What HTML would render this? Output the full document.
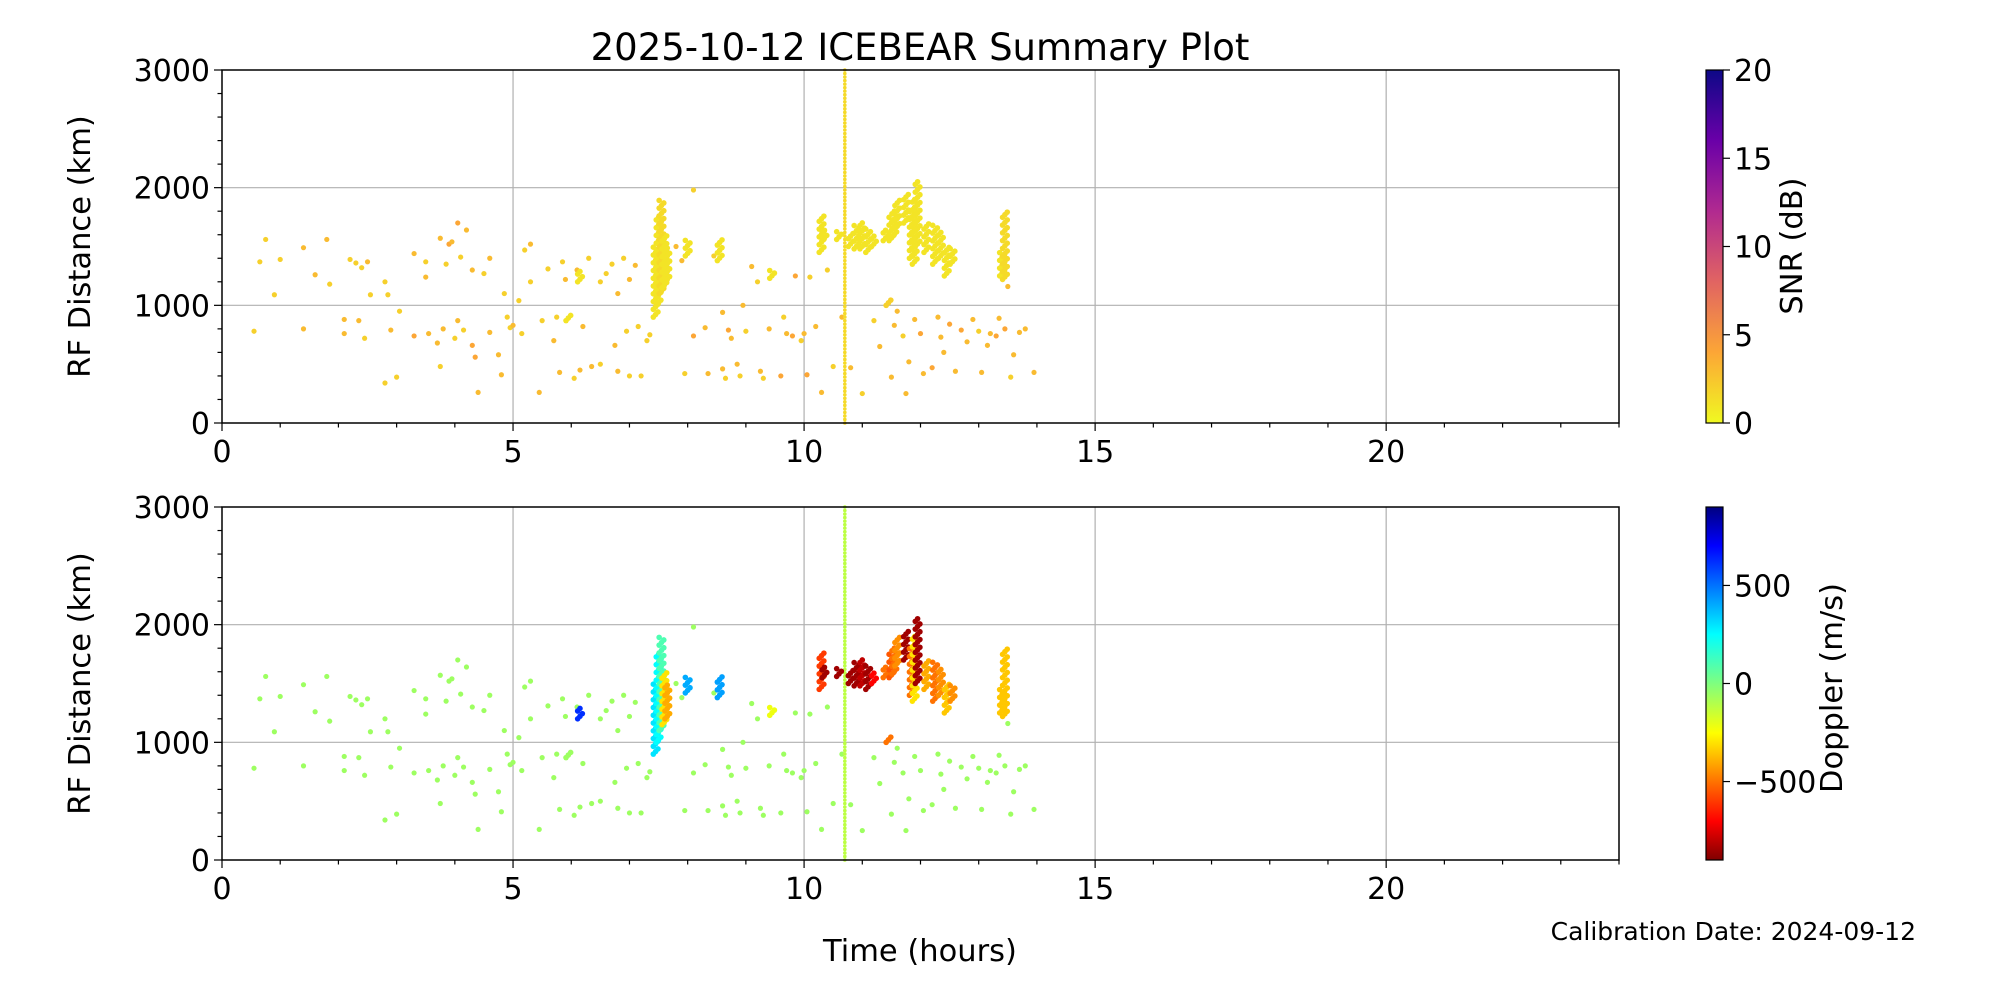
<!DOCTYPE html>
<html><head><meta charset="utf-8"><style>
html,body{margin:0;padding:0;background:#fff;}
svg{display:block;font-family:"DejaVu Sans","Liberation Sans",sans-serif;}
</style></head><body>
<svg id="chart" width="2000" height="1000" viewBox="0 0 2000 1000" xmlns="http://www.w3.org/2000/svg">
<rect width="2000" height="1000" fill="#fff"/>
<text x="920" y="60" font-size="37" text-anchor="middle">2025-10-12 ICEBEAR Summary Plot</text>
<text x="920" y="961" font-size="30.5" text-anchor="middle">Time (hours)</text>
<text x="1916" y="940" font-size="25" text-anchor="end">Calibration Date: 2024-09-12</text>
<defs>
<linearGradient id="plasma" x1="0" y1="1" x2="0" y2="0">
<stop offset="0" stop-color="#f0f921"/><stop offset="0.2" stop-color="#fca636"/><stop offset="0.4" stop-color="#e16462"/><stop offset="0.6" stop-color="#b12a90"/><stop offset="0.8" stop-color="#6a00a8"/><stop offset="1" stop-color="#0d0887"/>
</linearGradient>
<linearGradient id="jetr" x1="0" y1="1" x2="0" y2="0">
<stop offset="0" stop-color="#800000"/><stop offset="0.11" stop-color="#ff0000"/><stop offset="0.36" stop-color="#ffff00"/><stop offset="0.5" stop-color="#7fff7f"/><stop offset="0.64" stop-color="#00ffff"/><stop offset="0.89" stop-color="#0000ff"/><stop offset="1" stop-color="#000080"/>
</linearGradient>
</defs>
<g id="layer"></g>
</svg>
<script>
// scattered echoes: time (h), range (km)
const scatT=[0.55,0.65,0.75,0.9,1.0,1.4,1.4,1.6,1.8,1.85,2.1,2.1,2.2,2.3,2.35,2.4,2.45,2.5,2.55,2.8,2.8,2.85,2.9,3.0,3.05,3.3,3.3,3.5,3.5,3.55,3.7,3.75,3.75,3.8,3.85,3.9,3.95,4.0,4.05,4.05,4.1,4.15,4.2,4.3,4.3,4.35,4.4,4.5,4.6,4.6,4.75,4.8,4.85,4.9,4.95,5.0,5.1,5.15,5.2,5.3,5.3,5.45,5.5,5.6,5.7,5.75,5.8,5.85,5.9,6.05,6.1,6.15,6.2,6.3,6.35,6.5,6.5,6.6,6.7,6.75,6.8,6.8,6.9,6.95,7.0,7.0,7.1,7.15,7.2,7.3,7.35,7.8,7.9,7.95,8.1,8.1,8.3,8.35,8.45,8.6,8.6,8.65,8.7,8.75,8.85,8.9,8.95,9.0,9.1,9.2,9.25,9.3,9.4,9.6,9.65,9.7,9.8,9.85,9.95,10.0,10.05,10.1,10.2,10.3,10.4,10.5,10.65,10.8,11.0,11.2,11.3,11.5,11.55,11.6,11.7,11.75,11.8,11.9,12.0,12.05,12.2,12.3,12.35,12.4,12.5,12.6,12.7,12.8,12.9,13.0,13.05,13.15,13.2,13.3,13.35,13.45,13.5,13.55,13.6,13.7,13.8,13.95];
const scatR=[780,1370,1560,1090,1390,1490,800,1260,1560,1180,880,760,1390,1360,870,1320,720,1370,1090,1200,340,1090,790,390,950,1440,740,1370,1240,760,680,1570,480,800,1350,1520,1540,720,870,1700,1410,790,1640,1300,660,560,260,1270,1400,770,580,410,1100,900,810,830,1040,760,1470,1200,1520,260,870,1310,700,900,430,1370,1220,380,1300,450,820,1400,480,500,1200,1270,1350,660,1100,440,1400,780,1220,400,1340,820,400,700,750,1500,1380,420,1980,740,810,420,1420,940,460,380,790,720,500,400,1000,780,1330,1200,440,380,800,400,900,760,740,1250,700,760,410,1240,820,260,1300,480,900,470,250,870,650,390,830,950,740,250,520,880,760,420,470,900,730,600,840,440,790,690,880,780,430,660,760,740,890,800,1160,390,580,770,800,430];
const scatSNR=[2,2,2,2,2,3,3,3,3,2,3,3,2,2,3,2,2,3,2,2,2,2,3,2,2,3,4,2,3,3,3,3,2,3,2,4,3,2,3,4,2,2,3,3,4,4,3,2,3,3,3,3,2,2,2,3,2,2,2,2,3,3,2,2,3,2,3,2,3,2,3,3,3,2,3,2,2,2,2,3,3,3,2,2,3,2,3,2,2,2,2,3,3,2,2,4,3,3,2,3,3,2,4,3,3,2,3,2,3,2,3,2,3,4,2,3,4,4,2,3,4,2,3,3,2,2,3,3,2,2,3,3,3,3,2,3,3,3,4,3,4,3,3,3,4,3,4,3,3,2,3,3,3,4,3,4,3,2,3,3,3,3,3,2];
const scatDop=scatT.map(()=>-60);
// streaks: time, range min, range max, snr, doppler
const strT=[7.45,7.5,7.55,7.6,7.65,8.0,8.55,9.45,5.95,6.15,10.7,10.3,10.35,10.6,10.8,10.9,11.0,11.1,11.2,11.4,11.5,11.55,11.6,11.75,11.85,11.9,11.95,12.1,12.25,12.35,12.45,12.55,13.4,13.45,11.45];
const strLo=[900,1000,1100,1150,1200,1420,1380,1230,870,1200,0,1450,1550,1560,1500,1480,1480,1450,1500,1550,1550,1580,1650,1700,1400,1350,1500,1450,1350,1400,1250,1350,1250,1220,1000];
const strHi=[1500,1750,1900,1600,1500,1560,1560,1310,920,1300,3000,1760,1650,1640,1620,1680,1700,1650,1600,1650,1750,1800,1900,1950,1800,1900,2050,1700,1700,1620,1500,1500,1450,1800,1050];
const strSNR=[1,1,1.5,1,1,1,1,1,1,1,1.5,1,1,1,1,1,1,1,1,1,1,1,1,1,1,1,1,1,1,1,1,1,1,1.5,2];
const strDop=[300,250,100,-300,-400,400,420,-220,-60,620,-120,-600,-850,-850,-850,-850,-800,-850,-700,-500,-550,-500,-450,-850,-500,-300,-850,-400,-500,-450,-350,-450,-350,-350,-500];

const NS='http://www.w3.org/2000/svg';
const layer=document.getElementById('layer');
const X0=222,X1=1619;
const panels=[{top:70,bot:423,name:'snr'},{top:507,bot:860,name:'doppler'}];
const xs=t=>X0+(t/24)*(X1-X0);
function mk(tag,attrs,parent){const e=document.createElementNS(NS,tag);for(const k in attrs)e.setAttribute(k,attrs[k]);(parent||layer).appendChild(e);return e;}
function lerpStops(stops,v){v=Math.max(0,Math.min(1,v));for(let i=1;i<stops.length;i++){if(v<=stops[i][0]){const a=stops[i-1],b=stops[i],f=(v-a[0])/(b[0]-a[0]);return 'rgb('+[1,2,3].map(j=>Math.round(a[j]+(b[j]-a[j])*f)).join(',')+')';}}const l=stops[stops.length-1];return 'rgb('+l[1]+','+l[2]+','+l[3]+')';}
const plasmaR=[[0,240,249,33],[0.2,252,166,54],[0.4,225,100,98],[0.6,177,42,144],[0.8,106,0,168],[1,13,8,135]];
const jetR=[[0,128,0,0],[0.11,255,0,0],[0.36,255,255,0],[0.5,127,255,127],[0.64,0,255,255],[0.89,0,0,255],[1,0,0,128]];
const snrCol=v=>lerpStops(plasmaR,v/20);
const dopCol=v=>lerpStops(jetR,(v+900)/1800);

panels.forEach((p,pi)=>{
  const ys=r=>p.bot-(r/3000)*(p.bot-p.top);
  const g=mk('g',{});
  
  
  [5,10,15,20].forEach(t=>{const l=mk('line',{x1:xs(t),x2:xs(t),y1:p.top,y2:p.bot,stroke:'#b0b0b0','stroke-width':1.2},g);});
  [1000,2000].forEach(r=>{const l=mk('line',{x1:X0,x2:X1,y1:ys(r),y2:ys(r),stroke:'#b0b0b0','stroke-width':1.2},g);});
  const colOf=pi===0?(s,d)=>snrCol(s):(s,d)=>dopCol(d);
  scatT.forEach((t,i)=>{const c=mk('circle',{cx:xs(t),cy:ys(scatR[i]),r:2.6,fill:colOf(scatSNR[i],scatDop[i])},g);});
  strT.forEach((t,i)=>{
    const line=strT[i]===10.7;
    const step=line?30:22;
    for(let r=strLo[i],k=0;r<=strHi[i];r+=step,k++){
      const jitter=line?0:((k%3)-1)*0.04;
      const c=mk('circle',{cx:xs(t+jitter),cy:ys(r),r:line?1.8:2.8,fill:colOf(strSNR[i],strDop[i])},g);
      
      
    }});
  const fr=mk('rect',{x:X0,y:p.top,width:X1-X0,height:p.bot-p.top,fill:'none',stroke:'#000','stroke-width':1.5},g);
  
  for(let t=0;t<=24;t++){const len=(t%5===0)?8:4.5;mk('line',{x1:xs(t),x2:xs(t),y1:p.bot,y2:p.bot+len,stroke:'#000','stroke-width':1.2},g);}
  [0,5,10,15,20].forEach(t=>{const tx=mk('text',{x:xs(t),y:p.bot+39,'font-size':30,'text-anchor':'middle'},g);tx.textContent=t;});
  for(let r=0;r<=3000;r+=200){const len=(r%1000===0)?8:4.5;mk('line',{x1:X0-len,x2:X0,y1:ys(r),y2:ys(r),stroke:'#000','stroke-width':1.2},g);}
  [0,1000,2000,3000].forEach(r=>{const tx=mk('text',{x:X0-12,y:ys(r)+11,'font-size':30,'text-anchor':'end'},g);tx.textContent=r;});
  const yl=mk('text',{x:0,y:0,'font-size':30.5,'text-anchor':'middle',transform:'translate(90,'+((p.top+p.bot)/2)+') rotate(-90)'},g);
  yl.textContent='RF Distance (km)';
  const cb=mk('rect',{x:1706,y:p.top,width:17,height:p.bot-p.top,fill:pi===0?'url(#plasma)':'url(#jetr)',stroke:'#000','stroke-width':1.2},g);
  
  const ticks=pi===0?[0,5,10,15,20]:[-500,0,500];
  const cy=pi===0?v=>p.bot-(v/20)*(p.bot-p.top):v=>p.bot-((v+900)/1800)*(p.bot-p.top);
  ticks.forEach(v=>{mk('line',{x1:1723,x2:1730,y1:cy(v),y2:cy(v),stroke:'#000','stroke-width':1.2},g);const tx=mk('text',{x:1734,y:cy(v)+11,'font-size':30},g);tx.textContent=v<0?'\u2212'+(-v):v;});
  const cl=mk('text',{x:0,y:0,'font-size':30.5,'text-anchor':'middle',transform:pi===0?'translate(1802,246) rotate(-90)':'translate(1842,688) rotate(-90)'},g);
  cl.textContent=pi===0?'SNR (dB)':'Doppler (m/s)';
});
</script>
</body></html>
